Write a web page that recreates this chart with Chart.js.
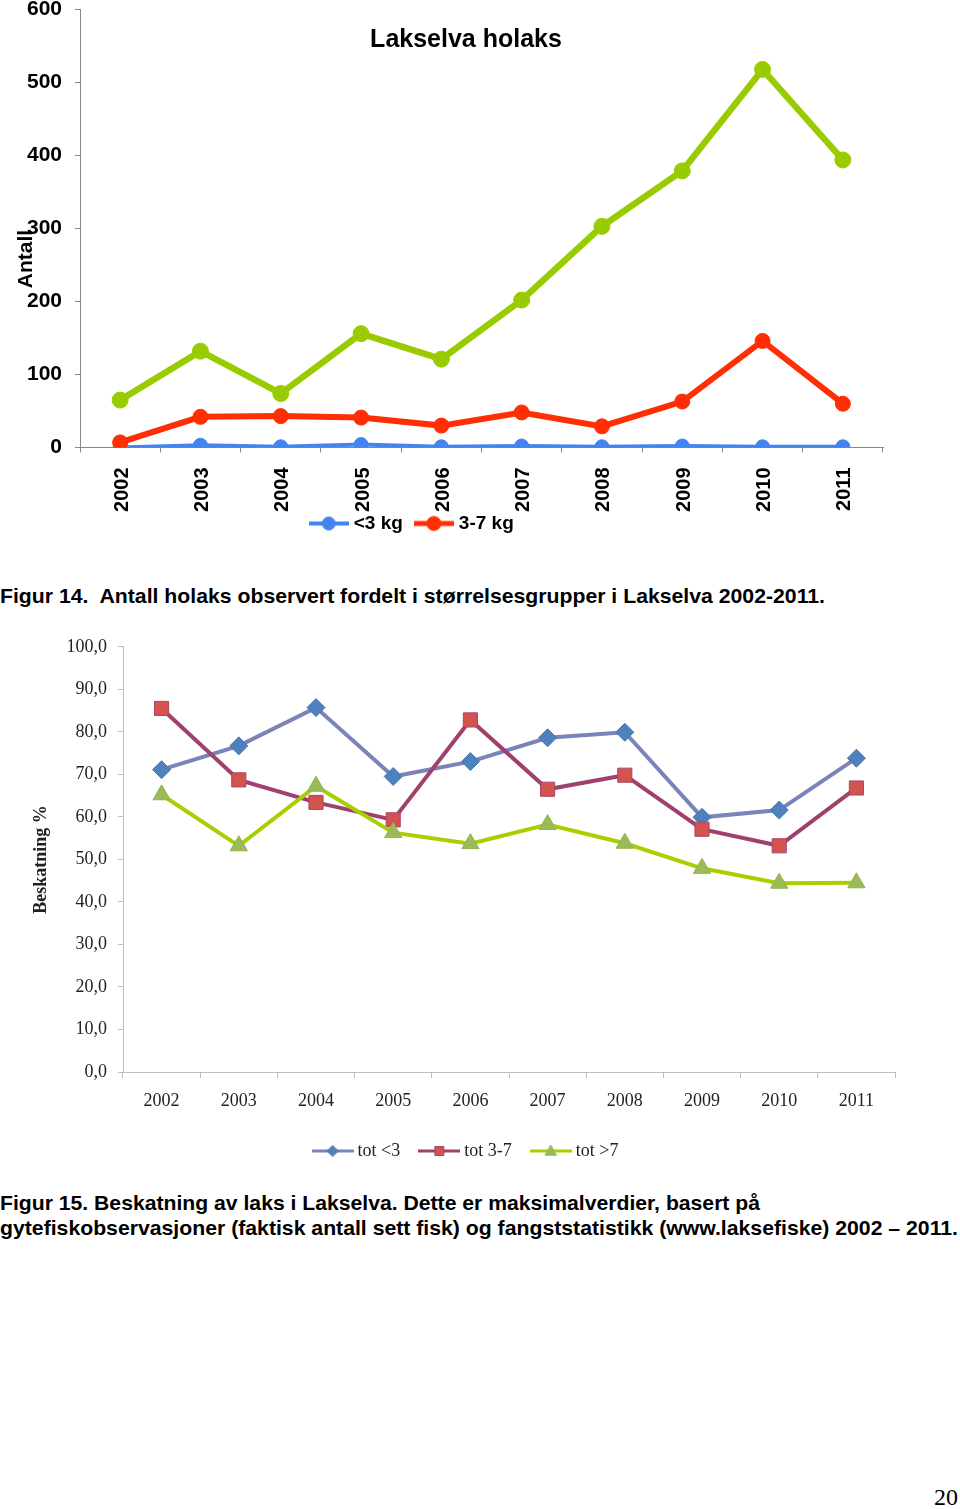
<!DOCTYPE html>
<html><head><meta charset="utf-8">
<script src="https://cdn.jsdelivr.net/npm/chart.js@4.4.1/dist/chart.umd.min.js"></script>
<style>
html,body{margin:0;padding:0;background:#fff;}
body{width:960px;height:1509px;position:relative;overflow:hidden;}
#c1wrap{position:absolute;left:0;top:0;width:960px;height:533px;overflow:hidden;}
#c1{position:absolute;left:0;top:-16px;}
#c2wrap{position:absolute;left:0;top:625px;width:960px;height:545px;}
#c2{position:absolute;left:0;top:0;}
.cap{position:absolute;left:0;white-space:nowrap;font-family:"Liberation Sans Narrow","Arial Narrow","Liberation Sans",Arial,sans-serif;font-weight:bold;font-size:21px;line-height:24px;color:#000;transform-origin:0 50%;}
#page{position:absolute;right:2px;top:1483px;font-family:"Liberation Serif","Times New Roman",serif;font-size:24px;line-height:28px;color:#000;}
</style></head>
<body>
<div id="c1wrap"><canvas id="c1" width="960" height="573"></canvas></div>
<div class="cap" id="cap1" style="top:584px" data-w="825">Figur 14.&nbsp; Antall holaks observert fordelt i størrelsesgrupper i Lakselva 2002-2011.</div>
<div id="c2wrap"><canvas id="c2" width="960" height="545"></canvas></div>
<div class="cap" id="cap2a" style="top:1191px" data-w="760">Figur 15. Beskatning av laks i Lakselva. Dette er maksimalverdier, basert på</div>
<div class="cap" id="cap2b" style="top:1216px" data-w="958">gytefiskobservasjoner (faktisk antall sett fisk) og fangststatistikk (www.laksefiske) 2002 – 2011.</div>
<div id="page">20</div>
<script>
// ---------- DATA ----------
const years = ['2002','2003','2004','2005','2006','2007','2008','2009','2010','2011'];
// Figur 14: Antall holaks
const under3kg = [0, 3, 1, 4, 1, 2, 1, 2, 1, 1];
const kg3to7   = [7, 42, 43, 41, 30, 48, 29, 63, 146, 60];
const over7kg  = [65, 132, 74, 156, 121, 202, 303, 379, 518, 394];
const antallMin = 0, antallMax = 600, antallStep = 100;
// Figur 15: Beskatning %
const tot3   = [71.1, 76.7, 85.7, 69.5, 73.0, 78.6, 79.9, 59.9, 61.6, 73.8];
const tot37  = [85.5, 68.7, 63.4, 59.3, 82.8, 66.5, 69.8, 57.1, 53.2, 66.8];
const tot7   = [65.2, 53.2, 67.2, 56.3, 53.7, 58.2, 53.8, 47.9, 44.4, 44.5];
const beskMin = 0, beskMax = 100, beskStep = 10;

// ---------- helpers ----------
function markerPath(g, style, x, y, r){
  g.beginPath();
  if(style==='circle'){ g.arc(x,y,r,0,Math.PI*2); }
  else if(style==='diamond'){ g.moveTo(x,y-r); g.lineTo(x+r,y); g.lineTo(x,y+r); g.lineTo(x-r,y); g.closePath(); }
  else if(style==='square'){ g.rect(x-r,y-r,2*r,2*r); }
  else if(style==='triangle'){ g.moveTo(x,y-r); g.lineTo(x+r*0.95,y+r*0.7); g.lineTo(x-r*0.95,y+r*0.7); g.closePath(); }
}
function legendImg(w,h,lineColor,lineWidth,style,fill,stroke,r){
  const c=document.createElement('canvas'); c.width=w; c.height=h;
  const g=c.getContext('2d');
  g.strokeStyle=lineColor; g.lineWidth=lineWidth;
  g.beginPath(); g.moveTo(0,h/2); g.lineTo(w,h/2); g.stroke();
  markerPath(g,style,w/2,h/2,r);
  g.fillStyle=fill; g.fill();
  g.strokeStyle=stroke; g.lineWidth=1; g.stroke();
  return c;
}
const legendShift={id:'legendShift',afterLayout(chart,args,opts){const l=chart.legend;if(!l||!opts)return;
  if(opts.dx){l.left+=opts.dx;l.right+=opts.dx;}
  if(opts.dy){l.top+=opts.dy;l.bottom+=opts.dy;}}};
const chartText={id:'chartText',afterDraw(chart,args,opts){const ctx=chart.ctx;(opts.items||[]).forEach(it=>{ctx.save();ctx.font=it.font;ctx.fillStyle=it.color||'#000';ctx.textAlign='center';ctx.textBaseline='middle';ctx.translate(it.x,it.y);ctx.rotate(it.rot||0);ctx.fillText(it.text,0,0);ctx.restore();});}};

// ---------- Chart 1 ----------
const BLUE='#4285F0', RED='#FF2E05', GREEN='#99CC00';
const sansB=(s)=>({family:'"Liberation Sans", Arial, sans-serif',weight:'bold',size:s});
const img1a=legendImg(40,20,BLUE,4,'circle',BLUE,BLUE,6.5);
const img1b=legendImg(40,20,RED,5,'circle',RED,RED,7);
new Chart(document.getElementById('c1'),{
  type:'line',
  data:{labels:years,datasets:[
    {label:'<3 kg',data:under3kg,borderColor:BLUE,backgroundColor:BLUE,pointBackgroundColor:BLUE,pointBorderColor:BLUE,borderWidth:4,pointRadius:7,pointBorderWidth:1,tension:0,order:3},
    {label:'3-7 kg',data:kg3to7,borderColor:RED,backgroundColor:RED,pointBackgroundColor:RED,pointBorderColor:RED,borderWidth:6,pointRadius:7.5,pointBorderWidth:1,tension:0,order:2},
    {label:'>7 kg',data:over7kg,borderColor:GREEN,backgroundColor:GREEN,pointBackgroundColor:GREEN,pointBorderColor:GREEN,borderWidth:6.5,pointRadius:8,pointBorderWidth:1,tension:0,order:1}
  ]},
  options:{
    responsive:false,animation:false,devicePixelRatio:1,
    layout:{padding:{top:14,left:0,right:77,bottom:0}},
    scales:{
      x:{offset:true,
        grid:{display:true,drawOnChartArea:false,drawTicks:true,tickLength:5,color:'#888',offset:true},
        border:{display:true,color:'#888',width:1},
        ticks:{minRotation:90,maxRotation:90,autoSkip:false,padding:15,labelOffset:2,font:sansB(20),color:'#000'},
        afterFit(s){s.height=65;}},
      y:{min:antallMin,max:antallMax,
        ticks:{stepSize:antallStep,padding:13,font:sansB(21),color:'#000'},
        grid:{display:true,drawOnChartArea:false,drawTicks:true,tickLength:5,color:'#888'},
        border:{display:true,color:'#888',width:1},
        afterFit(s){s.width=80;}}
    },
    plugins:{
      legend:{position:'bottom',labels:{usePointStyle:true,pointStyleWidth:31,padding:15.5,font:sansB(19),color:'#000',
        generateLabels:()=>[
          {text:'<3 kg',pointStyle:img1a,fillStyle:BLUE,strokeStyle:BLUE,lineWidth:0,hidden:false,datasetIndex:0,fontColor:'#000'},
          {text:'3-7 kg',pointStyle:img1b,fillStyle:RED,strokeStyle:RED,lineWidth:0,hidden:false,datasetIndex:1,fontColor:'#000'}
        ]}},
      tooltip:{enabled:false},
      legendShift:{dx:-28,dy:-14},
      chartText:{items:[
        {text:'Lakselva holaks',x:466,y:56,font:'bold 25px "Liberation Sans", Arial, sans-serif'},
        {text:'Antall',x:26,y:275,rot:-Math.PI/2,font:'bold 21px "Liberation Sans", Arial, sans-serif'}
      ]}
    }
  },
  plugins:[legendShift,chartText]
});

// ---------- Chart 2 ----------
const L1='#7A84B8', M1='#4F81BD', M1b='#4677B4';
const L2='#A0416D', M2='#D4534F', M2b='#A8466C';
const L3='#A8D000', M3='#9BBB59', M3b='#93B450';
const serif=(s,w)=>({family:'"Liberation Serif", "Times New Roman", serif',size:s,weight:w||'normal'});
const img2a=legendImg(42,20,L1,3,'diamond',M1,M1b,5.5);
const img2b=legendImg(42,20,L2,3,'square',M2,M2b,4.5);
const img2c=legendImg(42,20,L3,3,'triangle',M3,M3b,6);
const fmt=(v)=>Number(v).toFixed(1).replace('.',',');
new Chart(document.getElementById('c2'),{
  type:'line',
  data:{labels:years,datasets:[
    {label:'tot <3',data:tot3,borderColor:L1,borderWidth:4,pointStyle:'rectRot',pointRadius:9,pointBackgroundColor:M1,pointBorderColor:M1b,pointBorderWidth:1,tension:0,order:3},
    {label:'tot 3-7',data:tot37,borderColor:L2,borderWidth:4,pointStyle:'rect',pointRadius:10,pointBackgroundColor:M2,pointBorderColor:M2b,pointBorderWidth:1,tension:0,order:2},
    {label:'tot >7',data:tot7,borderColor:L3,borderWidth:4,pointStyle:'triangle',pointRadius:10,pointBackgroundColor:M3,pointBorderColor:M3b,pointBorderWidth:1,tension:0,order:1}
  ]},
  options:{
    responsive:false,animation:false,devicePixelRatio:1,
    layout:{padding:{top:15,left:0,right:65,bottom:0}},
    scales:{
      x:{offset:true,
        grid:{display:true,drawOnChartArea:false,drawTicks:true,tickLength:6,color:'#BDBDBD',offset:true},
        border:{display:true,color:'#BDBDBD',width:1},
        ticks:{maxRotation:0,autoSkip:false,padding:12,font:serif(18),color:'#222'},
        afterFit(s){s.height=47;}},
      y:{min:beskMin,max:beskMax,
        ticks:{stepSize:beskStep,padding:11,font:serif(18),color:'#222',callback:(v)=>fmt(v)},
        grid:{display:true,drawOnChartArea:false,drawTicks:true,tickLength:5,color:'#BDBDBD'},
        border:{display:true,color:'#BDBDBD',width:1},
        title:{display:true,text:'Beskatning %',font:serif(18,'bold'),color:'#222',padding:{top:31,bottom:0}},
        afterFit(s){s.width=123;}}
    },
    plugins:{
      legend:{position:'bottom',labels:{usePointStyle:true,pointStyleWidth:32,padding:23,font:serif(18),color:'#222',
        generateLabels:()=>[
          {text:'tot <3',pointStyle:img2a,fillStyle:M1,strokeStyle:L1,lineWidth:0,hidden:false,datasetIndex:0,fontColor:'#222'},
          {text:'tot 3-7',pointStyle:img2b,fillStyle:M2,strokeStyle:L2,lineWidth:0,hidden:false,datasetIndex:1,fontColor:'#222'},
          {text:'tot >7',pointStyle:img2c,fillStyle:M3,strokeStyle:L3,lineWidth:0,hidden:false,datasetIndex:2,fontColor:'#222'}
        ]}},
      tooltip:{enabled:false},
      legendShift:{dx:20}
    }
  },
  plugins:[legendShift]
});

// ---------- caption fitting ----------
document.querySelectorAll('.cap').forEach(el=>{
  const target=parseFloat(el.dataset.w);
  const w=el.getBoundingClientRect().width;
  if(w>0) el.style.transform='scaleX('+(target/w)+')';
});
</script>
</body></html>
